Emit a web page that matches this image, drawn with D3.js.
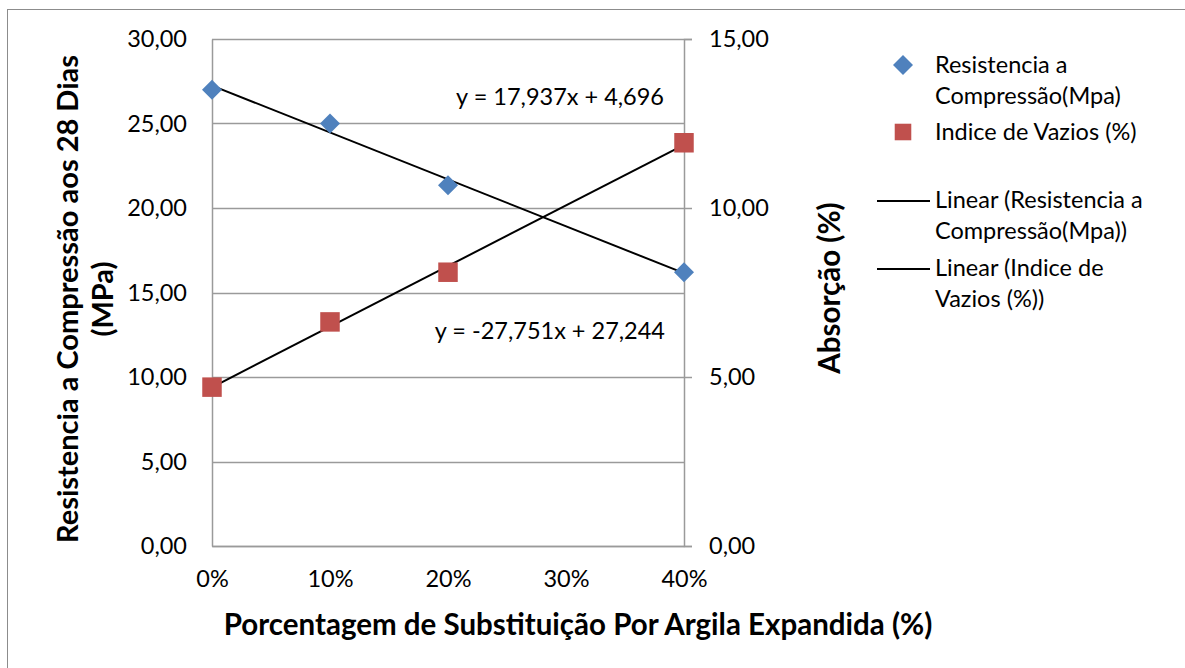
<!DOCTYPE html>
<html>
<head>
<meta charset="utf-8">
<script src="https://cdn.jsdelivr.net/npm/d3@7"></script>
<style>
  html, body { margin: 0; padding: 0; background: #fff; }
  svg { display: block; font-family: Lato, "Open Sans", sans-serif; }
</style>
</head>
<body>
<svg id="chart" width="1185" height="668"></svg>
<script>
// Substitution level (fraction of aggregate replaced by expanded clay)
const substitution = [0, 0.1, 0.2, 0.4];
// 28-day compressive strength (MPa) — left axis
const resistencia = [27.0, 25.0, 21.35, 16.2];
// Void index (%) — right axis
const indiceVazios = [4.70, 6.63, 8.10, 11.93];

// Linear trend coefficients [slope, intercept]
const trendResistencia = [-27.751, 27.244];
const trendVazios = [17.937, 4.696];

const xTicks = [0, 0.1, 0.2, 0.3, 0.4];
const leftTicks = [0, 5, 10, 15, 20, 25, 30];
const rightTicks = [0, 5, 10, 15];

const legendLabels = [
  ["Resistencia a", "Compressão(Mpa)"],
  ["Indice de Vazios (%)"],
  ["Linear (Resistencia a", "Compressão(Mpa))"],
  ["Linear (Indice de", "Vazios (%))"]
];

const ptBR = d3.formatLocale({ decimal: ",", thousands: ".", grouping: [3], currency: ["R$", ""], minus: "-" });
const fmt2 = ptBR.format(".2f");
const fmtPct = ptBR.format(".0%");
const fmtEq = ptBR.format(".3f");

const svg = d3.select("#chart");
const blue = "#4F81BD", red = "#C0504D", gridColor = "#9a9a9a";
const textSize = 23.5;
const titleSize = 29.5;

// outer chart frame
svg.append("rect")
  .attr("x", 7.5).attr("y", 9.5).attr("width", 1190).attr("height", 670)
  .attr("fill", "#fff").attr("stroke", "#8c8c8c").attr("stroke-width", 1);

const x = d3.scaleLinear().domain([0, 0.4]).range([212, 684]);
const yL = d3.scaleLinear().domain([0, 30]).range([546, 39]);
const yR = d3.scaleLinear().domain([0, 15]).range([546, 39]);

// horizontal gridlines
svg.append("g").selectAll("line").data(leftTicks).join("line")
  .attr("x1", x(0)).attr("x2", x(0.4))
  .attr("y1", d => Math.round(yL(d)) + 0.5).attr("y2", d => Math.round(yL(d)) + 0.5)
  .attr("stroke", gridColor).attr("stroke-width", 1.5);

// left axis
const gL = svg.append("g").attr("transform", `translate(${x(0)},0)`)
  .call(d3.axisLeft(yL).tickValues(leftTicks).tickFormat(fmt2).tickSize(0).tickPadding(25));
// right axis
const gR = svg.append("g").attr("transform", `translate(${x(0.4)},0)`)
  .call(d3.axisRight(yR).tickValues(rightTicks).tickFormat(fmt2).tickSize(8).tickPadding(17));
// bottom axis
const gB = svg.append("g").attr("transform", `translate(0,${yL(0)})`)
  .call(d3.axisBottom(x).tickValues(xTicks).tickFormat(fmtPct).tickSize(0).tickPadding(24));

[gL, gR, gB].forEach(g => {
  g.select(".domain").attr("stroke", gridColor).attr("stroke-width", 1.5);
  g.selectAll(".tick line").attr("stroke", gridColor).attr("stroke-width", 1.5);
  g.selectAll(".tick text").attr("font-size", textSize).attr("fill", "#000")
    .attr("font-family", "Lato, 'Open Sans', sans-serif");
});

// trend lines
const trendLine = (coef, yScale) => d3.line()
  .x(d => x(d))
  .y(d => yScale(coef[0] * d + coef[1]));
const span = [0, 0.4];
svg.append("path").attr("d", trendLine(trendResistencia, yL)(span))
  .attr("fill", "none").attr("stroke", "#000").attr("stroke-width", 2);
svg.append("path").attr("d", trendLine(trendVazios, yR)(span))
  .attr("fill", "none").attr("stroke", "#000").attr("stroke-width", 2);

// markers
const diamond = d3.symbol().type(d3.symbolSquare).size(200)();
const square = d3.symbol().type(d3.symbolSquare).size(380)();
svg.append("g").selectAll("path").data(substitution).join("path")
  .attr("d", diamond)
  .attr("transform", (d, i) => `translate(${x(d)},${yL(resistencia[i])}) rotate(45)`)
  .attr("fill", blue);
svg.append("g").selectAll("path").data(substitution).join("path")
  .attr("d", square)
  .attr("transform", (d, i) => `translate(${x(d)},${yR(indiceVazios[i])})`)
  .attr("fill", red);

// trend equations
const eqText = c => `y = ${fmtEq(c[0])}x + ${fmtEq(c[1])}`;
svg.append("text").attr("x", 664).attr("y", 105).attr("text-anchor", "end")
  .attr("font-size", textSize).text(eqText(trendVazios));
svg.append("text").attr("x", 665).attr("y", 339).attr("text-anchor", "end")
  .attr("font-size", textSize).text(eqText(trendResistencia));

// axis titles
svg.append("text")
  .attr("transform", "translate(68,299) rotate(-90)")
  .attr("text-anchor", "middle").attr("dy", "0.35em")
  .attr("font-size", 29).attr("font-weight", "bold")
  .text("Resistencia a Compressão aos 28 Dias");
svg.append("text")
  .attr("transform", "translate(103,299) rotate(-90)")
  .attr("text-anchor", "middle").attr("dy", "0.35em")
  .attr("font-size", 29).attr("font-weight", "bold")
  .text("(MPa)");
svg.append("text")
  .attr("transform", "translate(830,288) rotate(-90)")
  .attr("text-anchor", "middle").attr("dy", "0.35em")
  .attr("font-size", titleSize).attr("font-weight", "bold")
  .text("Absorção (%)");
svg.append("text")
  .attr("x", 578).attr("y", 625)
  .attr("text-anchor", "middle").attr("dy", "0.35em")
  .attr("font-size", titleSize).attr("font-weight", "bold")
  .text("Porcentagem de Substituição Por Argila Expandida (%)");

// legend
const legendY = [65, 132, 200, 268];
const lineGap = 31;
const lg = svg.append("g");
legendLabels.forEach((lines, i) => {
  const cy = legendY[i];
  if (i === 0) {
    lg.append("path").attr("d", diamond).attr("transform", `translate(903,${cy}) rotate(45)`).attr("fill", blue);
  } else if (i === 1) {
    lg.append("path").attr("d", square).attr("transform", `translate(903,${cy}) scale(0.85)`).attr("fill", red);
  } else {
    lg.append("line").attr("x1", 877).attr("x2", 930).attr("y1", cy + 1).attr("y2", cy + 1)
      .attr("stroke", "#000").attr("stroke-width", 2);
  }
  lines.forEach((t, j) => {
    lg.append("text").attr("x", 935).attr("y", cy + j * lineGap).attr("dy", "0.35em")
      .attr("font-size", textSize).text(t);
  });
});
</script>
</body>
</html>
